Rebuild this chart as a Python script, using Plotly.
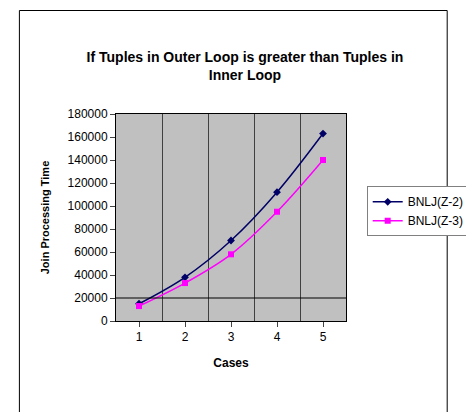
import plotly.graph_objects as go

cases = [1, 2, 3, 4, 5]
z2 = [15000, 38000, 70000, 112000, 163000]
z3 = [13000, 33000, 58000, 95000, 140000]

fig = go.Figure()
fig.add_trace(go.Scatter(x=cases, y=z2, name="BNLJ(Z-2)", mode="lines+markers",
                         line=dict(color="#000066", width=1.5, shape="spline"),
                         marker=dict(symbol="diamond", size=6, color="#000066")))
fig.add_trace(go.Scatter(x=cases, y=z3, name="BNLJ(Z-3)", mode="lines+markers",
                         line=dict(color="#ff00ff", width=1.5, shape="spline"),
                         marker=dict(symbol="square", size=6, color="#ff00ff")))

# plot area: 108..360 px wide, 106..313 px tall
fig.update_layout(
    width=474, height=412,
    paper_bgcolor="white", plot_bgcolor="#c0c0c0",
    font=dict(family="Liberation Sans, Arial", size=12, color="black"),
    title=dict(text="<b>If Tuples in Outer Loop is greater than Tuples in<br>Inner Loop</b>",
               x=0.5, xanchor="center", y=0.87, font=dict(size=14)),
    margin=dict(l=108, r=114, t=106, b=99),
    legend=dict(x=1.09, y=0.53, xanchor="left", yanchor="middle",
                bordercolor="#808080", borderwidth=1, font=dict(size=12)),
    showlegend=True,
)
fig.update_xaxes(range=[0.5, 5.5], tickvals=cases, showgrid=False,
                 ticks="outside", linecolor="black", mirror=True,
                 tickfont=dict(size=12),
                 title=dict(text="<b>Cases</b>", font=dict(size=12)),
                 minor=dict(tickvals=[1.5, 2.5, 3.5, 4.5], showgrid=True,
                            gridcolor="#404040", gridwidth=1))
fig.update_yaxes(range=[0, 180000], dtick=20000, showgrid=False, zeroline=False,
                 ticks="outside", linecolor="black", mirror=True,
                 tickformat="d", tickfont=dict(size=12),
                 title=dict(text="<b>Join Processing Time</b>", font=dict(size=11)))
fig.add_shape(type="line", xref="paper", yref="y", x0=0, x1=1, y0=20000, y1=20000,
              line=dict(color="black", width=1))
fig.add_shape(type="rect", xref="paper", yref="paper", x0=-0.42, x1=1.44, y0=-0.465, y1=1.50,
              line=dict(color="black", width=1))
fig.write_html("out.html")
